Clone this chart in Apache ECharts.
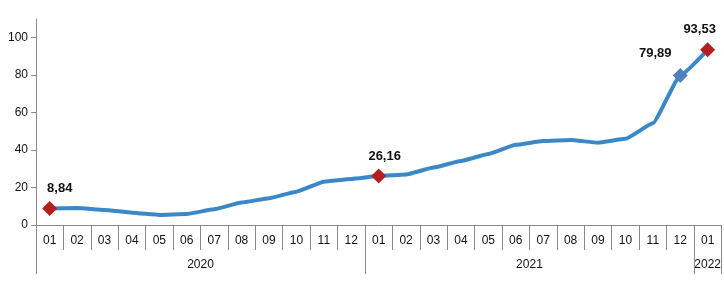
<!DOCTYPE html>
<html><head><meta charset="utf-8">
<script src="https://cdn.jsdelivr.net/npm/echarts@6/dist/echarts.min.js"></script>
<style>html,body{margin:0;padding:0;background:#fff}#c{width:724px;height:286px}</style>
</head><body><div id="c"></div>
<script>
const months = ['01','02','03','04','05','06','07','08','09','10','11','12','01','02','03','04','05','06','07','08','09','10','11','12','01'];
const values = [8.84,9.1,8.0,6.6,5.4,5.9,8.4,12.0,14.3,17.8,23.1,24.6,26.16,27.0,30.7,34.2,37.9,42.8,44.8,45.4,43.9,46.0,54.3,79.89,93.53];
const years = ['2020','2021','2022'];
const yearSpans = [12,12,1];
const yTicks = [0,20,40,60,80,100];
const markIdx = [0,12,23,24];
const markColors = ['#b41f1f','#b41f1f','#4f81bd','#b41f1f'];
const labelOffsets = [[10,0],[6,0],[-25,-2],[-8,0]];

const FONT = 'Liberation Sans, Arial, sans-serif';
const fmt = v => v.toFixed(2).replace('.', ',');

const data = values.map((v,i) => {
  const k = markIdx.indexOf(i);
  if (k < 0) return {value: v, symbol: 'none'};
  return {
    value: v, symbol: 'diamond', symbolSize: 15,
    itemStyle: {color: markColors[k]},
    label: {show: true, position: 'top', distance: 6, offset: labelOffsets[k],
      formatter: () => fmt(v), fontWeight: 'bold', fontSize: 13, color: '#111', fontFamily: FONT}
  };
});

const bounds = [0]; yearSpans.forEach(s => bounds.push(bounds[bounds.length-1] + s));
const centers = yearSpans.map((s,i) => bounds[i] + s/2);
const total = bounds[bounds.length-1];

const chart = echarts.init(document.getElementById('c'));
chart.setOption({
  animation: false,
  grid: {left: 36, right: 2, top: 19, bottom: 61},
  xAxis: [{
    type: 'category', data: months, boundaryGap: true,
    axisLine: {lineStyle: {color: '#8a8a8a', width: 1}},
    axisTick: {show: true, interval: 0, length: 25, lineStyle: {color: '#8a8a8a'}},
    axisLabel: {interval: 0, color: '#111', fontSize: 12, fontFamily: FONT, margin: 10},
    splitLine: {show: false}
  }, {
    type: 'value', min: 0, max: total, position: 'bottom',
    axisLine: {show: false},
    axisTick: {show: true, customValues: bounds, length: 49, lineStyle: {color: '#8a8a8a'}},
    axisLabel: {customValues: centers, color: '#111', fontSize: 12, fontFamily: FONT, margin: 34,
      formatter: v => { const i = centers.indexOf(v); return i >= 0 ? years[i] : ''; }},
    splitLine: {show: false}
  }],
  yAxis: {
    type: 'value', min: 0, max: 110, interval: 20,
    axisLine: {show: true, lineStyle: {color: '#8a8a8a'}},
    axisTick: {show: true, length: 5, lineStyle: {color: '#8a8a8a'}, customValues: yTicks},
    axisLabel: {customValues: yTicks, color: '#111', fontSize: 12, fontFamily: FONT, margin: 8},
    splitLine: {show: false}
  },
  series: [{
    type: 'line', xAxisIndex: 0, data: data, smooth: 0.12, smoothMonotone: 'x',
    lineStyle: {color: '#3a88c8', width: 4},
    itemStyle: {color: '#3a88c8'},
    showAllSymbol: true,
    z: 3
  }]
});
</script></body></html>
